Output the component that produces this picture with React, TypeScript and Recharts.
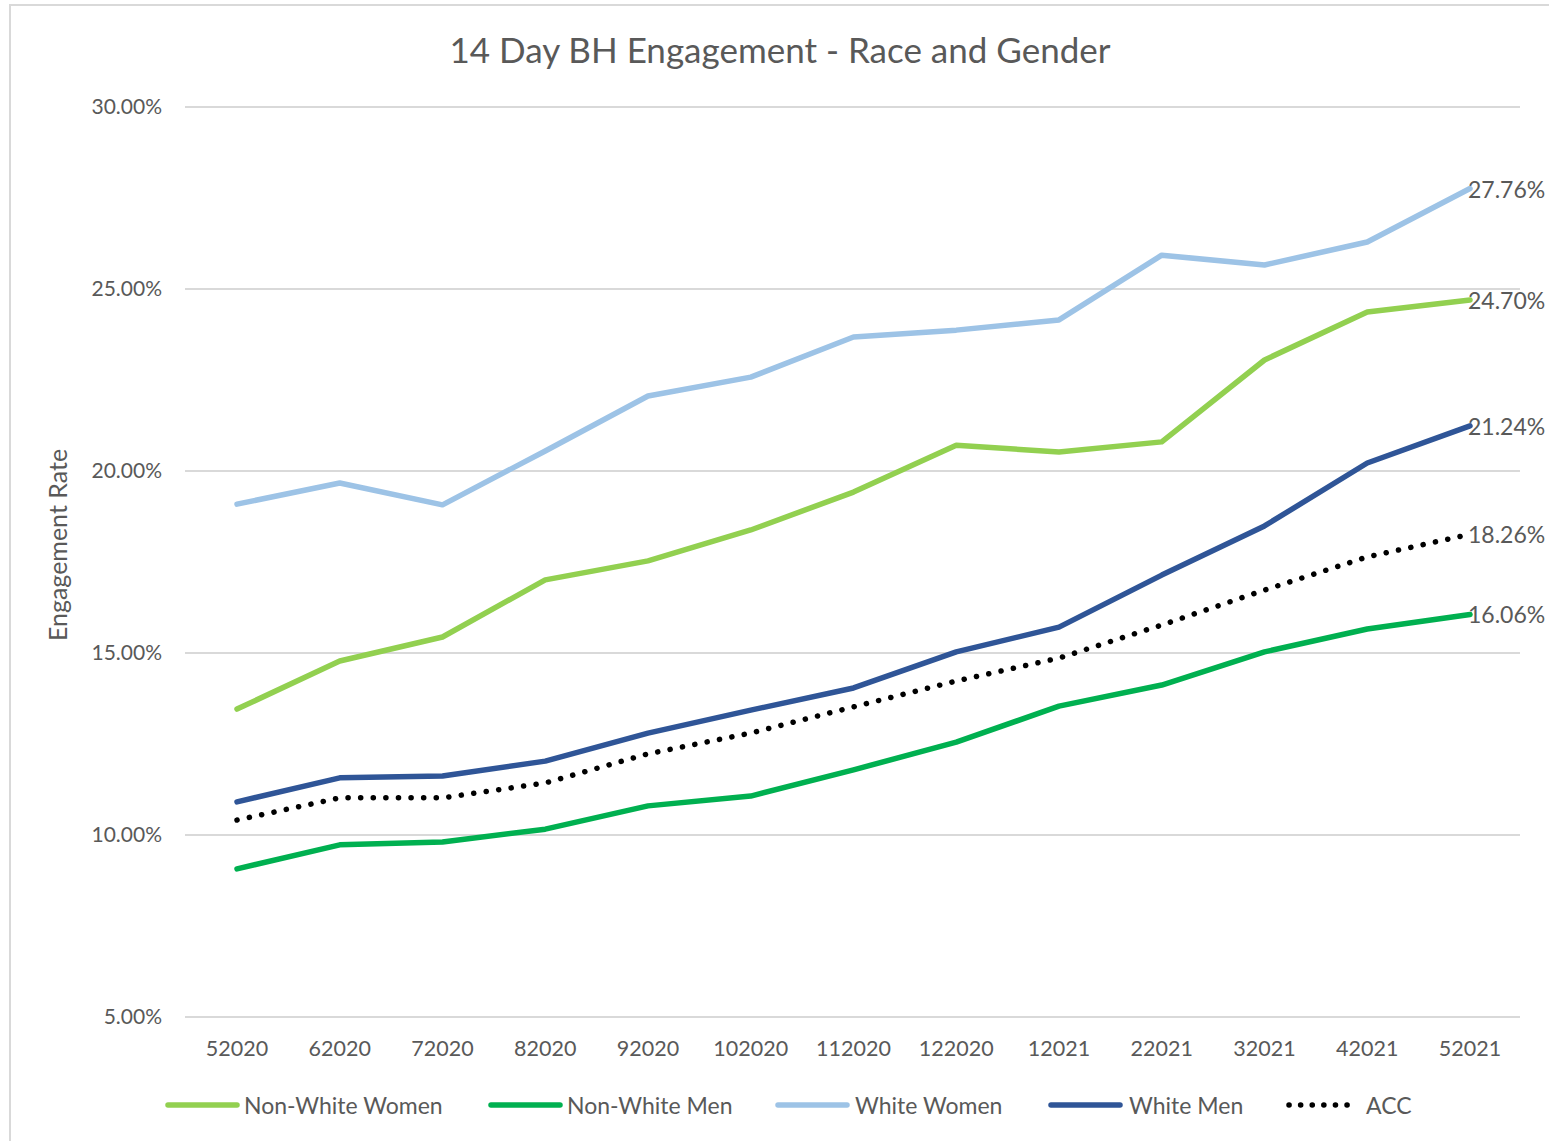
import { LineChart, Line, XAxis, YAxis, CartesianGrid, Legend, LabelList } from 'recharts';

const months = ['52020', '62020', '72020', '82020', '92020', '102020', '112020', '122020', '12021', '22021', '32021', '42021', '52021'];

const nonWhiteWomen = [13.46, 14.78, 15.44, 17.01, 17.53, 18.38, 19.42, 20.71, 20.52, 20.8, 23.05, 24.37, 24.7];
const nonWhiteMen = [9.07, 9.73, 9.81, 10.16, 10.8, 11.07, 11.79, 12.55, 13.54, 14.12, 15.03, 15.66, 16.06];
const whiteWomen = [19.09, 19.67, 19.07, 20.55, 22.06, 22.58, 23.68, 23.87, 24.15, 25.93, 25.66, 26.29, 27.76];
const whiteMen = [10.91, 11.57, 11.62, 12.03, 12.8, 13.43, 14.04, 15.03, 15.71, 17.14, 18.49, 20.22, 21.24];
const acc = [10.41, 11.02, 11.02, 11.43, 12.23, 12.8, 13.52, 14.23, 14.86, 15.77, 16.73, 17.64, 18.26];

const yTicks = [5, 10, 15, 20, 25, 30];

const series = [
  { key: 'nww', name: 'Non-White Women', color: '#92D050', dotted: false },
  { key: 'nwm', name: 'Non-White Men', color: '#00B050', dotted: false },
  { key: 'ww', name: 'White Women', color: '#9DC3E6', dotted: false },
  { key: 'wm', name: 'White Men', color: '#2F5597', dotted: false },
  { key: 'acc', name: 'ACC', color: '#000000', dotted: true },
];

const data = months.map((m, i) => ({
  month: m,
  nww: nonWhiteWomen[i],
  nwm: nonWhiteMen[i],
  ww: whiteWomen[i],
  wm: whiteMen[i],
  acc: acc[i],
}));

const FONT = 'Lato, "Open Sans", sans-serif';
const TEXT = '#595959';
const LAST = months.length - 1;

function EndLabel(props: any) {
  const { x, y, value, index } = props;
  if (index !== LAST) return null;
  return (
    <text x={x - 2} y={y} dominantBaseline="central" fontSize={23} fill={TEXT} fontFamily={FONT}>
      {`${value.toFixed(2)}%`}
    </text>
  );
}

// legend layout taken from the original (swatch start / text start)
const legendPos = [
  { sx: 165, tx: 244 },
  { sx: 488, tx: 567 },
  { sx: 775, tx: 855 },
  { sx: 1048, tx: 1129 },
  { sx: 1286, tx: 1366 },
];

function LegendContent() {
  return (
    <svg width={1549} height={40} style={{ display: 'block' }}>
      {series.map((s, i) => {
        const p = legendPos[i];
        return (
          <g key={s.key}>
            <line
              x1={p.sx + 3}
              x2={p.sx + 72}
              y1={17}
              y2={17}
              stroke={s.color}
              strokeWidth={5.5}
              strokeLinecap="round"
              strokeDasharray={s.dotted ? '0.1 11.5' : undefined}
            />
            <text x={p.tx} y={17} dominantBaseline="central" fontSize={23} fill={TEXT} fontFamily={FONT}>
              {s.name}
            </text>
          </g>
        );
      })}
    </svg>
  );
}

export default function App() {
  return (
    <div style={{ position: 'absolute', left: 0, top: 0, width: 1549, height: 1141, background: '#fff', overflow: 'hidden' }}>
      <div style={{ position: 'absolute', left: 9, top: 4, width: 1560, height: 1160, border: '2px solid #d9d9d9' }} />
      <div style={{ position: 'absolute', left: 0, top: 28, width: 1560, textAlign: 'center', fontSize: 35, color: TEXT, fontFamily: FONT }}>
        14 Day BH Engagement - Race and Gender
      </div>
      <div
        style={{
          position: 'absolute',
          left: 57,
          top: 545,
          transform: 'translate(-50%, -50%) rotate(-90deg)',
          fontSize: 25,
          color: TEXT,
          fontFamily: FONT,
          whiteSpace: 'nowrap',
        }}
      >
        Engagement Rate
      </div>
      <div style={{ position: 'absolute', left: 0, top: 0 }}>
        <LineChart width={1549} height={1141} data={data} margin={{ top: 107, right: 29, bottom: 74, left: 105 }}>
          <CartesianGrid vertical={false} stroke="#d9d9d9" strokeWidth={2} />
          <XAxis
            dataKey="month"
            axisLine={{ stroke: '#d9d9d9', strokeWidth: 2 }}
            tickLine={false}
            height={50}
            tick={{ fontSize: 21.5, fill: TEXT, fontFamily: FONT }}
            tickMargin={18}
            padding={{ left: 52, right: 50 }}
          />
          <YAxis
            domain={[5, 30]}
            ticks={yTicks}
            axisLine={false}
            tickLine={false}
            width={80}
            tickFormatter={(v: number) => `${v.toFixed(2)}%`}
            tick={{ fontSize: 21, fill: TEXT, fontFamily: FONT }}
            tickMargin={17}
          />
          <Legend
            verticalAlign="middle"
            align="center"
            layout="horizontal"
            wrapperStyle={{ top: 1088, left: 0, width: 1549 }}
            content={() => <LegendContent />}
          />
          {series.map((s) => (
            <Line
              key={s.key}
              dataKey={s.key}
              name={s.name}
              stroke={s.color}
              strokeWidth={5.5}
              strokeLinecap="round"
              strokeLinejoin="round"
              strokeDasharray={s.dotted ? '0.1 12.5' : undefined}
              dot={false}
              activeDot={false}
              type="linear"
              isAnimationActive={false}
            >
              <LabelList dataKey={s.key} content={EndLabel} />
            </Line>
          ))}
        </LineChart>
      </div>
    </div>
  );
}
